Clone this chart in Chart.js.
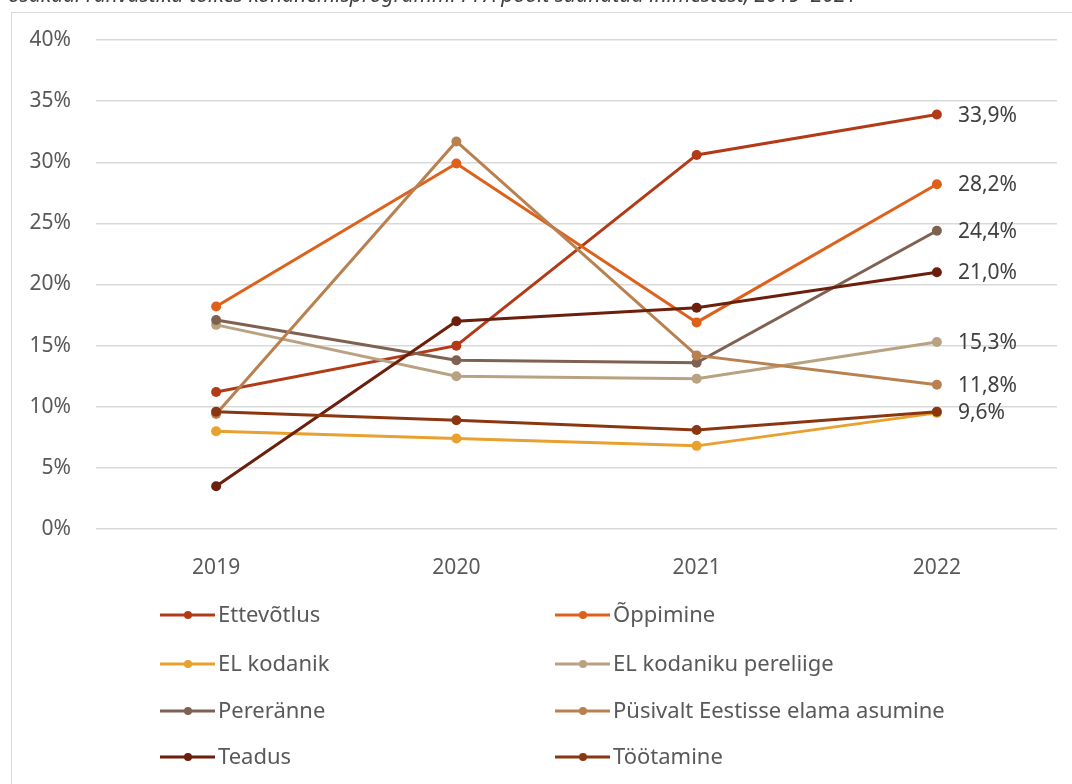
<!DOCTYPE html>
<html>
<head>
<meta charset="utf-8">
<script src="https://cdn.jsdelivr.net/npm/chart.js@4.4.1/dist/chart.umd.min.js"></script>
<style>
    html, body { margin: 0; padding: 0; background: #fff; }
    #wrap { position: relative; width: 1072px; height: 784px; overflow: hidden; }
    #frame { position: absolute; left: 11px; top: 12px; width: 1080px; height: 800px; border: 1.5px solid #d9d9d9; box-sizing: border-box; }
    canvas { position: absolute; left: 0; top: 0; }
</style>
</head>
<body>
<div id="wrap">
    <div id="frame"></div>
    <canvas id="chart" width="1072" height="784"></canvas>
</div>
<script>
// Data
const years = ['2019', '2020', '2021', '2022'];
const seriesNames = ['Ettevõtlus', 'Õppimine', 'EL kodanik', 'EL kodaniku pereliige', 'Pereränne', 'Püsivalt Eestisse elama asumine', 'Teadus', 'Töötamine'];
const ettevotlus = [11.2, 15.0, 30.6, 33.9];
const oppimine = [18.2, 29.9, 16.9, 28.2];
const elKodanik = [8.0, 7.4, 6.8, 9.5];
const elPereliige = [16.7, 12.5, 12.3, 15.3];
const pereranne = [17.1, 13.8, 13.6, 24.4];
const pusivalt = [9.4, 31.7, 14.2, 11.8];
const teadus = [3.5, 17.0, 18.1, 21.0];
const tootamine = [9.6, 8.9, 8.1, 9.6];
const yTicks = [0, 5, 10, 15, 20, 25, 30, 35, 40];

const seriesValues = [ettevotlus, oppimine, elKodanik, elPereliige, pereranne, pusivalt, teadus, tootamine];
const colors = ['#b33a17', '#de611b', '#e8a02e', '#b9a282', '#7f6152', '#b8814f', '#6b1f0c', '#8a3711'];
// EL kodanik label is hidden behind Töötamine in the original
const showEndLabel = [true, true, false, true, true, true, true, true];

const FONT = '"Noto Sans", sans-serif';
const fmt = (v) => v.toFixed(1).replace('.', ',') + '%';

// Cut-off title at the very top
const titlePlugin = {
    id: 'cutTitle',
    afterDraw(chart) {
        const ctx = chart.ctx;
        ctx.save();
        ctx.font = 'italic 21px ' + FONT;
        ctx.fillStyle = '#404040';
        ctx.textBaseline = 'alphabetic';
        ctx.fillText('osakaal rahvastiku tõlkes kohanemisprogrammi PPA poolt suunatud inimestest, 2019–2021', 8, 2);
        ctx.restore();
    }
};

// Values at the end of the lines
const endLabels = {
    id: 'endLabels',
    afterDatasetsDraw(chart) {
        const ctx = chart.ctx;
        ctx.save();
        ctx.font = '21px ' + FONT;
        ctx.fillStyle = '#404040';
        ctx.textBaseline = 'middle';
        chart.data.datasets.forEach((ds, i) => {
            if (!showEndLabel[i]) return;
            const pt = chart.getDatasetMeta(i).data[3];
            ctx.fillText(fmt(ds.data[3]), pt.x + 21, pt.y + 1);
        });
        ctx.restore();
    }
};

// Two-column legend like the Excel one
const gridLegend = {
    id: 'gridLegend',
    afterDraw(chart) {
        const ctx = chart.ctx;
        const colX = [160, 555];
        const rowY = [615, 664, 711, 757];
        ctx.save();
        ctx.font = '22px ' + FONT;
        ctx.textBaseline = 'middle';
        chart.data.datasets.forEach((ds, i) => {
            const x = colX[i % 2];
            const y = rowY[Math.floor(i / 2)];
            ctx.strokeStyle = ds.borderColor;
            ctx.lineWidth = 3;
            ctx.beginPath();
            ctx.moveTo(x, y);
            ctx.lineTo(x + 55, y);
            ctx.stroke();
            ctx.fillStyle = ds.borderColor;
            ctx.beginPath();
            ctx.arc(x + 28, y, 4, 0, Math.PI * 2);
            ctx.fill();
            ctx.fillStyle = '#595959';
            ctx.fillText(ds.label, x + 58, y + 1);
        });
        ctx.restore();
    }
};

const datasets = seriesNames.map((name, i) => ({
    label: name,
    data: seriesValues[i],
    borderColor: colors[i],
    backgroundColor: colors[i],
    borderWidth: 3,
    pointRadius: 5,
    pointHoverRadius: 5,
    pointBorderWidth: 0,
    tension: 0,
    order: seriesNames.length - i
}));

new Chart(document.getElementById('chart'), {
    type: 'line',
    data: { labels: years, datasets: datasets },
    plugins: [titlePlugin, endLabels, gridLegend],
    options: {
        responsive: false,
        animation: false,
        devicePixelRatio: 1,
        layout: { padding: { left: 12, top: 40, right: 15, bottom: 205 } },
        plugins: {
            legend: { display: false },
            tooltip: { enabled: false }
        },
        scales: {
            x: {
                offset: true,
                grid: { display: false },
                border: { display: false },
                ticks: { color: '#595959', font: { family: FONT, size: 21 }, padding: 18 },
                afterFit(scale) { scale.height = 50; }
            },
            y: {
                min: 0,
                max: 40,
                afterBuildTicks(scale) { scale.ticks = yTicks.map(v => ({ value: v })); },
                grid: { color: '#d9d9d9', lineWidth: 1.5, drawTicks: false },
                border: { display: false },
                ticks: {
                    color: '#595959',
                    font: { family: FONT, size: 21 },
                    padding: 25,
                    callback: (v) => v + '%'
                },
                afterFit(scale) { scale.width = 84; }
            }
        }
    }
});
</script>
</body>
</html>
